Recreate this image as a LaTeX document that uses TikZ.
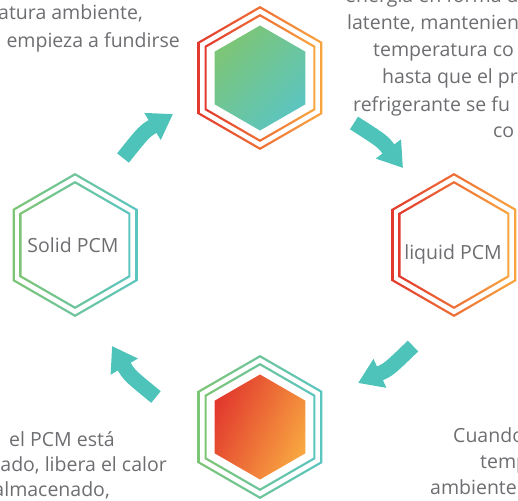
\documentclass[tikz,border=0pt]{standalone}
\usepackage{fontspec}
\setmainfont{Open Sans}
\usetikzlibrary{arrows.meta}

\definecolor{pcmred}{RGB}{226,58,46}
\definecolor{pcmorange}{RGB}{248,166,64}
\definecolor{pcmgreen}{RGB}{125,197,118}
\definecolor{pcmteal}{RGB}{92,197,192}
\definecolor{arrowteal}{RGB}{78,195,186}
\definecolor{textgray}{RGB}{109,110,113}

% hexagon (pointy top) around the last given point
\newcommand{\hexring}[1]{+(90:#1) -- +(150:#1) -- +(210:#1) -- +(270:#1) -- +(330:#1) -- +(30:#1) -- cycle}

\tikzset{
    warmring/.style={left color=pcmred, right color=pcmorange, even odd rule},
    coolring/.style={left color=pcmgreen, right color=pcmteal, even odd rule},
    cyclearrow/.style={draw=arrowteal, line width=15pt, -{Triangle[length=24pt, width=30pt]}},
    caption/.style={text=textgray, font=\fontsize{19.5}{22}\selectfont, inner sep=0pt}
}

\begin{document}
\begin{tikzpicture}[x=1pt, y=-1pt]
    \useasboundingbox (0,0) rectangle (518,500);
    \clip (0,0) rectangle (518,500);

    \coordinate (melting) at (260,78);
    \coordinate (liquid) at (454,245);
    \coordinate (cooling) at (260,427);
    \coordinate (solid) at (75,245);

    % arrows
    \coordinate (a1s) at (123,158);
    \coordinate (a1e) at (173,114);
    \coordinate (a2s) at (354,123);
    \coordinate (a2e) at (403,168);
    \coordinate (a3s) at (413,346);
    \coordinate (a3e) at (358,383);
    \coordinate (a4s) at (156,397);
    \coordinate (a4e) at (112,346);
    \draw[cyclearrow] (a1s) .. controls (144.1,131.6) .. (a1e);
    \draw[cyclearrow] (a2s) .. controls (382.5,141.2) .. (a2e);
    \draw[cyclearrow] (a3s) .. controls (388.8,369.4) .. (a3e);
    \draw[cyclearrow] (a4s) .. controls (129.5,375.4) .. (a4e);

    % melting
    \shade[warmring] (melting) \hexring{72} (melting) \hexring{69.5};
    \shade[warmring] (melting) \hexring{64} (melting) \hexring{61.5};
    \shade[left color=pcmgreen, right color=pcmteal, shading angle=45] (melting) \hexring{52.5};

    % liquid
    \shade[warmring] (liquid) \hexring{72} (liquid) \hexring{69.5};
    \shade[warmring] (liquid) \hexring{64} (liquid) \hexring{61.5};

    % cooling
    \shade[coolring] (cooling) \hexring{72} (cooling) \hexring{69.5};
    \shade[coolring] (cooling) \hexring{64} (cooling) \hexring{61.5};
    \shade[left color=pcmred, middle color=pcmorange!60!pcmred, right color=pcmorange, shading angle=65] (cooling) \hexring{52.5};

    % solid
    \shade[coolring] (solid) \hexring{72} (solid) \hexring{69.5};
    \shade[coolring] (solid) \hexring{64} (solid) \hexring{61.5};

    \node[caption, anchor=base] (solidname) at (73,252) {Solid PCM};
    \node[caption, anchor=base] (liquidname) at (453,259) {liquid PCM};

    % texts
    \node[caption, anchor=base east] (melt1) at (143,20) {atura ambiente,};
    \node[caption, anchor=base east] (melt2) at (180,48) {empieza a fundirse};

    \node[caption, anchor=base west] (store0) at (345,3) {energía en forma de};
    \node[caption, anchor=base west] (store1) at (347,30) {latente, mantenien};
    \node[caption, anchor=base west] (store2) at (373,57) {temperatura co};
    \node[caption, anchor=base west] (store3) at (382,84) {hasta que el pr};
    \node[caption, anchor=base west] (store4) at (353,111) {refrigerante se fu};
    \node[caption, anchor=base west] (store5) at (493,137) {co};

    \node[caption, anchor=base east] (release1) at (115,446) {el PCM está};
    \node[caption, anchor=base east] (release2) at (167,471) {ado, libera el calor};
    \node[caption, anchor=base east] (release3) at (110,496) {almacenado,};

    \node[caption, anchor=base west] (cool1) at (453,442) {Cuando};
    \node[caption, anchor=base west] (cool2) at (480,468) {temp};
    \node[caption, anchor=base west] (cool3) at (430,494) {ambiente};
\end{tikzpicture}
\end{document}
